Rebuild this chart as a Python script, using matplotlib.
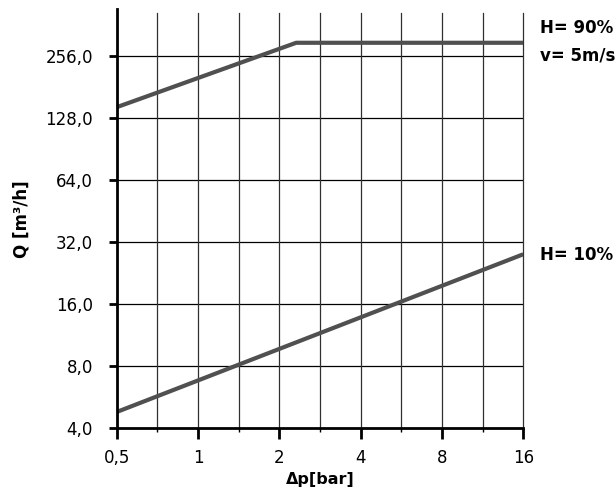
import numpy as np
import matplotlib
matplotlib.use("Agg")
import matplotlib.pyplot as plt
from matplotlib.ticker import FixedLocator, FixedFormatter

# values (log-log chart)
x_ticks = [0.5, 1, 2, 4, 8, 16]
x_labels = ["0,5", "1", "2", "4", "8", "16"]
y_ticks = [4, 8, 16, 32, 64, 128, 256]
y_labels = ["4,0", "8,0", "16,0", "32,0", "64,0", "128,0", "256,0"]

h90_x = [0.5, 2.31, 16]
h90_y = [145, 298, 298]
h10_x = [0.5, 16]
h10_y = [4.8, 28.0]

line_col = "#505050"

def main():
    plt.rcParams['font.family'] = ['DejaVu Sans']
    fig = plt.figure(figsize=(6.16, 4.9), dpi=100)
    ax = fig.add_axes([0.1894, 0.1259, 0.660, 0.855])

    ax.set_xscale("log")
    ax.set_yscale("log")
    ax.set_xlim(0.5, 16)
    ax.set_ylim(4, 433)

    # grid: horizontal at majors, vertical at majors and geometric midpoints
    minor_x = [np.sqrt(a*b) for a, b in zip(x_ticks[:-1], x_ticks[1:])]
    for yv in y_ticks[1:]:
        ax.axhline(yv, color="black", lw=0.9, zorder=1)
    for xv in x_ticks[1:] + minor_x:
        ax.axvline(xv, ymax=0.992, color="#303030", lw=0.9, zorder=1, clip_on=False)

    ax.plot(h90_x, h90_y, color=line_col, lw=3, zorder=3, solid_capstyle="butt")
    ax.plot(h10_x, h10_y, color=line_col, lw=3, zorder=3, solid_capstyle="butt")

    ax.xaxis.set_major_locator(FixedLocator(x_ticks))
    ax.xaxis.set_major_formatter(FixedFormatter(x_labels))
    ax.xaxis.set_minor_locator(FixedLocator(minor_x))
    ax.xaxis.set_minor_formatter(FixedFormatter([""] * len(minor_x)))
    ax.yaxis.set_major_locator(FixedLocator(y_ticks))
    ax.yaxis.set_major_formatter(FixedFormatter(y_labels))
    ax.yaxis.set_minor_locator(FixedLocator([]))

    ax.tick_params(axis="x", which="major", direction="out", length=8, width=2, pad=7, labelsize=12)
    ax.tick_params(axis="x", which="minor", direction="out", length=3, width=1)
    ax.tick_params(axis="y", which="major", direction="out", length=6, width=2, pad=11, labelsize=12)

    for s in ["top", "right"]:
        ax.spines[s].set_visible(False)
    for s in ["left", "bottom"]:
        ax.spines[s].set_linewidth(2)
        ax.spines[s].set_zorder(4)

    ax.set_xlabel("Δp[bar]", fontsize=11.5, fontweight="bold", va="top")
    ax.xaxis.set_label_coords(0.5, -0.104)
    ax.set_ylabel("Q [m³/h]", fontsize=12, fontweight="bold", va="center")
    ax.yaxis.set_label_coords(-0.233, 0.5)

    ax.text(1.041, 0.955, "H= 90%", transform=ax.transAxes, fontsize=12,
            fontweight="bold", va="center", ha="left", clip_on=False)
    ax.text(1.041, 0.889, "v= 5m/s", transform=ax.transAxes, fontsize=12,
            fontweight="bold", va="center", ha="left", clip_on=False)
    ax.text(1.041, 0.414, "H= 10%", transform=ax.transAxes, fontsize=12,
            fontweight="bold", va="center", ha="left", clip_on=False)

    fig.savefig("out.png", dpi=100)

if __name__ == "__main__":
    main()
